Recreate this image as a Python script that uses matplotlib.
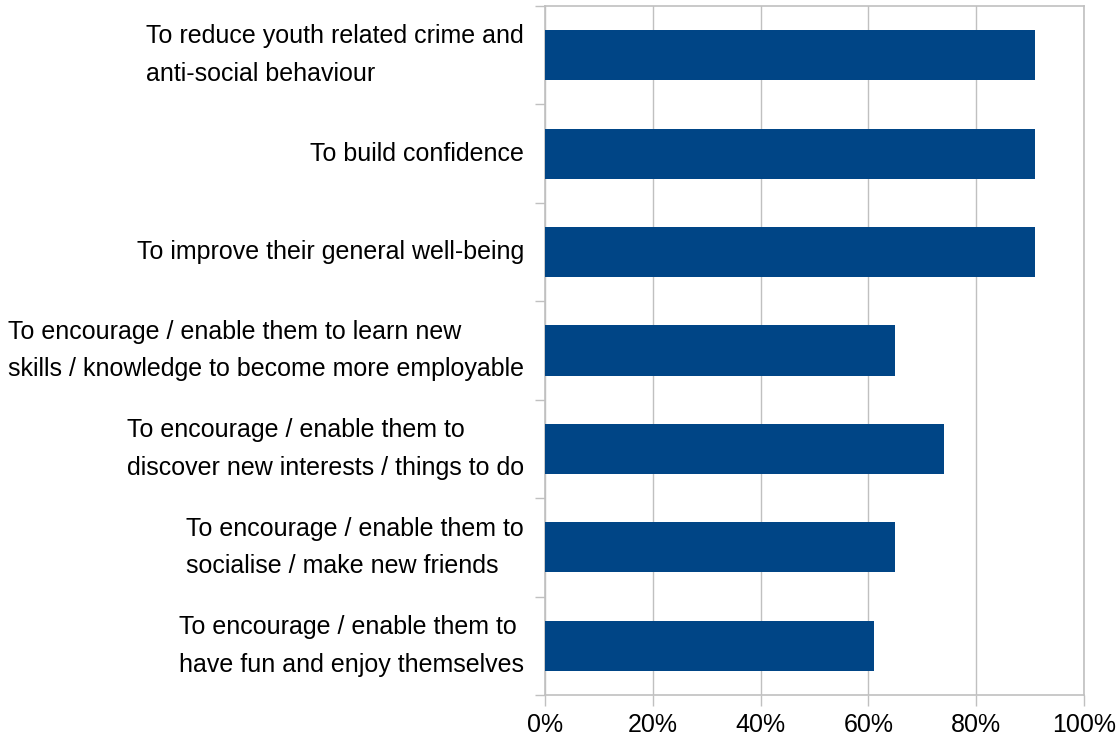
import matplotlib
matplotlib.use("Agg")
import matplotlib.pyplot as plt
from matplotlib.ticker import FixedLocator, NullFormatter, PercentFormatter

# Reasons, listed top to bottom
categories = [
    "To reduce youth related crime and\nanti-social behaviour",
    "To build confidence",
    "To improve their general well-being",
    "To encourage / enable them to learn new\nskills / knowledge to become more employable",
    "To encourage / enable them to\ndiscover new interests / things to do",
    "To encourage / enable them to\nsocialise / make new friends",
    "To encourage / enable them to\nhave fun and enjoy themselves",
]
values = [91, 91, 91, 65, 74, 65, 61]
x_ticks = [0, 20, 40, 60, 80, 100]

bar_color = "#004586"
grid_color = "#c0c0c0"

plt.rcParams["font.family"] = ["Liberation Sans", "DejaVu Sans"]

fig = plt.figure(figsize=(11.2, 7.5), dpi=100)
ax = fig.add_axes([545 / 1120, 1 - 695 / 750, (1084 - 545) / 1120, (695 - 6) / 750])

n = len(categories)
ypos = list(range(n))
ax.barh(ypos, values, height=0.51, color=bar_color, zorder=3)

ax.set_xlim(0, 100)
ax.set_ylim(n - 0.5, -0.5)

ax.set_xticks(x_ticks)
ax.xaxis.set_major_formatter(PercentFormatter(decimals=0))
ax.tick_params(axis="x", length=8, width=1, color=grid_color, labelsize=18, pad=5)

# category labels: block right-aligned against the axis, lines left-aligned
ax.yaxis.set_major_locator(FixedLocator([i - 0.5 for i in range(n + 1)]))
ax.yaxis.set_major_formatter(NullFormatter())
ax.tick_params(axis="y", length=7, width=1, color=grid_color)
for y, lab in zip(ypos, categories):
    ax.text(-3.9, y, lab, ha="right", va="center", multialignment="left",
            fontsize=18, linespacing=1.72, transform=ax.transData, clip_on=False)

ax.grid(axis="x", color=grid_color, linewidth=1, zorder=0)
for s in ax.spines.values():
    s.set_color(grid_color)
    s.set_linewidth(1.2)

fig.savefig("out.png", dpi=100, facecolor="white")
